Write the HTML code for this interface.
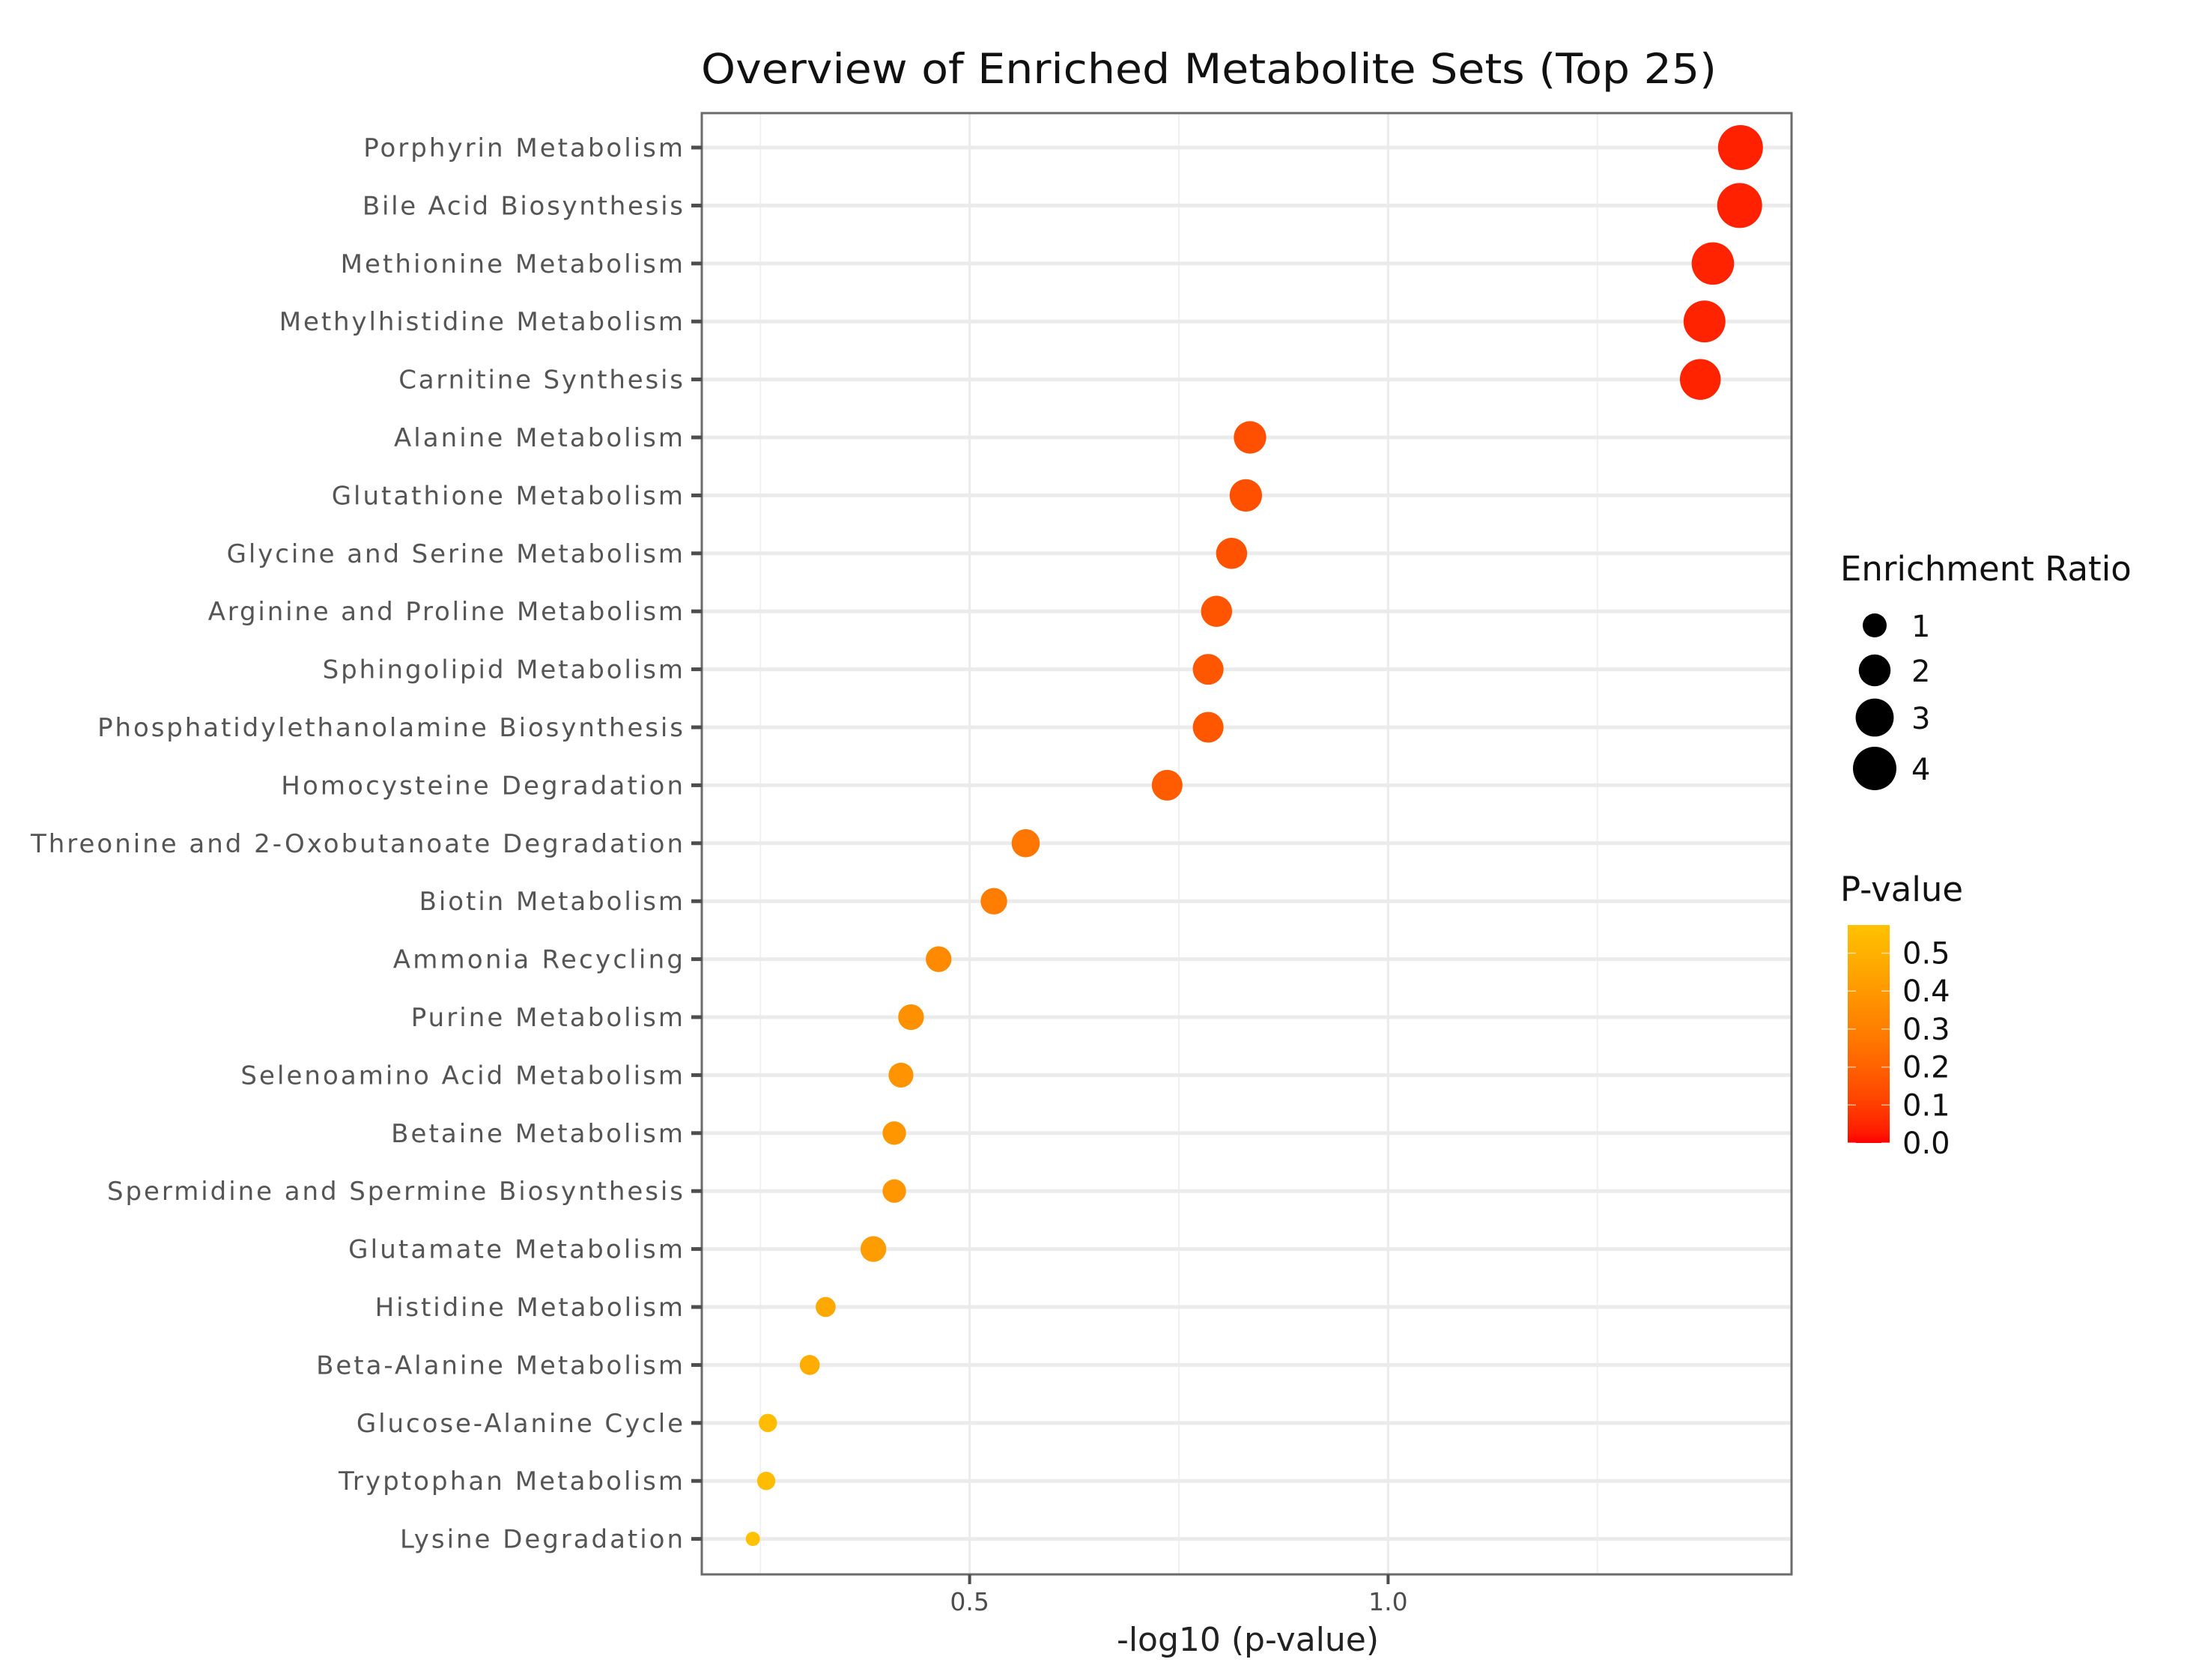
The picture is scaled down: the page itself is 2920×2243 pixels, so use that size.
<!DOCTYPE html>
<html><head><meta charset="utf-8"><style>
html,body{margin:0;padding:0;background:#fff;}
svg{display:block;}
</style></head><body>
<svg id="chart" width="2920" height="2243" viewBox="0 0 2920 2243" xmlns="http://www.w3.org/2000/svg" font-family="'DejaVu Sans','Liberation Sans',sans-serif">
<rect width="2920" height="2243" fill="#fff"/>
<text x="936" y="111" font-size="55" fill="#111" textLength="1356" lengthAdjust="spacingAndGlyphs">Overview of Enriched Metabolite Sets (Top 25)</text>
<g id="grid"></g>
<g id="marks"></g>
<g id="axes"></g>
<g id="legend"></g>
</svg>
<script>
const categories = ["Porphyrin Metabolism","Bile Acid Biosynthesis","Methionine Metabolism","Methylhistidine Metabolism","Carnitine Synthesis","Alanine Metabolism","Glutathione Metabolism","Glycine and Serine Metabolism","Arginine and Proline Metabolism","Sphingolipid Metabolism","Phosphatidylethanolamine Biosynthesis","Homocysteine Degradation","Threonine and 2-Oxobutanoate Degradation","Biotin Metabolism","Ammonia Recycling","Purine Metabolism","Selenoamino Acid Metabolism","Betaine Metabolism","Spermidine and Spermine Biosynthesis","Glutamate Metabolism","Histidine Metabolism","Beta-Alanine Metabolism","Glucose-Alanine Cycle","Tryptophan Metabolism","Lysine Degradation"];
const negLogP = [1.421,1.420,1.388,1.378,1.373,0.835,0.830,0.813,0.795,0.785,0.785,0.736,0.567,0.529,0.463,0.430,0.418,0.410,0.410,0.385,0.328,0.309,0.259,0.257,0.241];
const enrichmentRatio = [4.3,4.3,3.8,3.7,3.5,2.1,2.1,1.9,1.9,1.85,1.85,1.85,1.5,1.3,1.2,1.2,1.1,0.95,0.95,1.2,0.6,0.6,0.45,0.45,0.15];
const xTicks = [0.5,1.0];
const xTickLabels = ["0.5","1.0"];
const xMinor = [0.25,0.75,1.25];
const sizeLegendValues = [1,2,3,4];
const colorTicks = [0.0,0.1,0.2,0.3,0.4,0.5];
const colorTickLabels = ["0.0","0.1","0.2","0.3","0.4","0.5"];
const colorMax = 0.574;

const NS="http://www.w3.org/2000/svg";
const P={l:937,r:2392,t:151,b:2102};
const X0=0.180,X1=1.482;
function xs(v){return P.l+(v-X0)/(X1-X0)*(P.r-P.l);}
const rowTop=197,rowStep=77.4;
function ys(i){return rowTop+i*rowStep;}
function diam(r){return Math.sqrt(244+780*r);}
function colorOf(p){const t=Math.max(0,Math.min(1,p/colorMax));return `rgb(255,${Math.round(193*Math.pow(t,0.65))},0)`;}
function mk(tag,attrs,parent){const e=document.createElementNS(NS,tag);for(const k in attrs)e.setAttribute(k,attrs[k]);parent.appendChild(e);return e;}

const grid=document.getElementById('grid');
const marks=document.getElementById('marks');
const axes=document.getElementById('axes');
const legend=document.getElementById('legend');

xMinor.forEach(v=>{const l=mk('line',{x1:xs(v),x2:xs(v),y1:P.t,y2:P.b,stroke:'#f0f0f0','stroke-width':2},grid);

});
categories.forEach((c,i)=>{const l=mk('line',{x1:P.l,x2:P.r,y1:ys(i),y2:ys(i),stroke:'#ebebeb','stroke-width':5},grid);

});
xTicks.forEach(v=>{const l=mk('line',{x1:xs(v),x2:xs(v),y1:P.t,y2:P.b,stroke:'#ebebeb','stroke-width':3},grid);

});

categories.forEach((c,i)=>{const p=Math.pow(10,-negLogP[i]);
const e=mk('circle',{cx:xs(negLogP[i]),cy:ys(i),r:diam(enrichmentRatio[i])/2,fill:colorOf(p)},marks);

});

const b=mk('rect',{x:P.l,y:P.t,width:P.r-P.l,height:P.b-P.t,fill:'none',stroke:'#6b6b6b','stroke-width':3},axes);



const labs=[];
categories.forEach((c,i)=>{const t=mk('line',{x1:P.l-14,x2:P.l,y1:ys(i),y2:ys(i),stroke:'#4d4d4d','stroke-width':5},axes);


const tx=mk('text',{x:912,y:ys(i)+12,'font-size':34,fill:'#555','text-anchor':'end'},axes);
tx.textContent=c;


labs.push(tx);});
let maxW=0;labs.forEach(t=>{maxW=Math.max(maxW,t.getComputedTextLength());});
const k=871/maxW;
labs.forEach(t=>{const w=t.getComputedTextLength();t.setAttribute('textLength',(w*k).toFixed(1));t.setAttribute('lengthAdjust','spacing');});

xTicks.forEach((v,i)=>{const t=mk('line',{x1:xs(v),x2:xs(v),y1:P.b,y2:P.b+13,stroke:'#4d4d4d','stroke-width':4},axes);


const tx=mk('text',{x:xs(v),y:2150,'font-size':33,fill:'#4d4d4d','text-anchor':'middle'},axes);
tx.textContent=xTickLabels[i];

});
const xt=mk('text',{x:1666,y:2204,'font-size':44,fill:'#222','text-anchor':'middle'},axes);
xt.textContent='-log10 (p-value)';



const st=mk('text',{x:2457,y:775,'font-size':45,fill:'#111'},legend);
st.textContent='Enrichment Ratio';


const ly=[835,895,958,1026];
sizeLegendValues.forEach((v,i)=>{const c=mk('circle',{cx:2503,cy:ly[i],r:diam(v)/2,fill:'#000'},legend);


const t=mk('text',{x:2552,y:ly[i]+15,'font-size':40,fill:'#111'},legend);
t.textContent=String(v);

});

const ct=mk('text',{x:2457,y:1203,'font-size':45,fill:'#111'},legend);
ct.textContent='P-value';


const defs=mk('defs',{},document.getElementById('chart'));
const g=mk('linearGradient',{id:'pg',x1:0,y1:1,x2:0,y2:0},defs);
for(let s=0;s<=20;s++){const p=s/20*colorMax;mk('stop',{offset:s/20,'stop-color':colorOf(p)},g);}
const cbTop=1235,cbBot=1526,cbL=2467,cbR=2523;
function cy(p){return cbBot-(p/colorMax)*(cbBot-cbTop);}
const bar=mk('rect',{x:cbL,y:cbTop,width:cbR-cbL,height:cbBot-cbTop,fill:'url(#pg)'},legend);


colorTicks.forEach((v,i)=>{
const t1=mk('line',{x1:cbL,x2:cbL+11,y1:cy(v),y2:cy(v),stroke:'#fff','stroke-width':1.5,opacity:0.6},legend);


const t2=mk('line',{x1:cbR-11,x2:cbR,y1:cy(v),y2:cy(v),stroke:'#fff','stroke-width':1.5,opacity:0.6},legend);


const t=mk('text',{x:2540,y:cy(v)+14,'font-size':40,fill:'#111'},legend);
t.textContent=colorTickLabels[i];

});
</script>
</body></html>
